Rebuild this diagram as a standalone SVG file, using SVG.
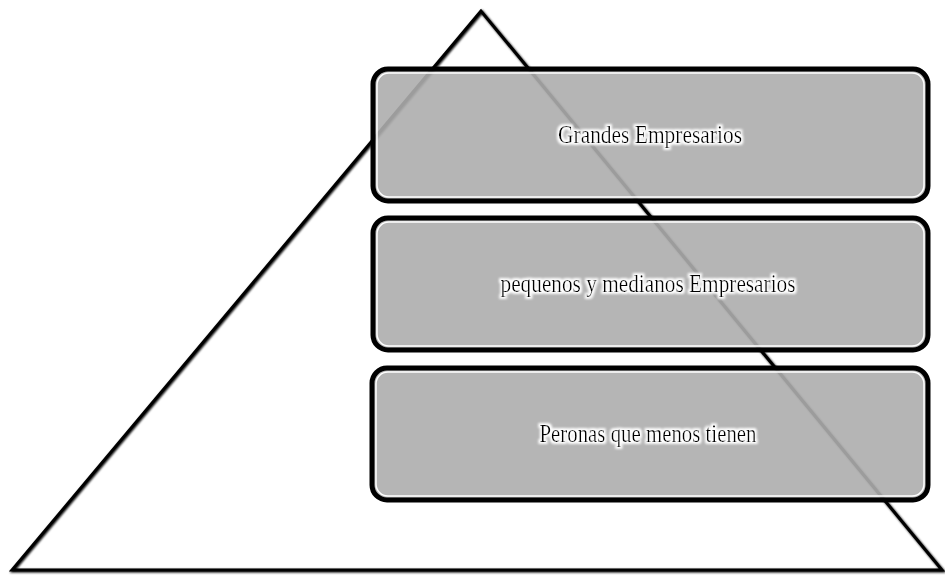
<svg xmlns="http://www.w3.org/2000/svg" width="945" height="575" viewBox="0 0 945 575">
<defs>
<filter id="sh" x="-5%" y="-5%" width="110%" height="110%">
<feGaussianBlur in="SourceAlpha" stdDeviation="1.2" result="b"/>
<feOffset dx="1" dy="1" result="o"/>
<feMerge><feMergeNode in="o"/><feMergeNode in="SourceGraphic"/></feMerge>
</filter>
<filter id="glow" x="-10%" y="-30%" width="120%" height="160%">
<feMorphology in="SourceAlpha" operator="dilate" radius="1.5" result="d"/>
<feGaussianBlur in="d" stdDeviation="1" result="g"/>
<feFlood flood-color="#ffffff"/>
<feComposite in2="g" operator="in" result="w"/>
<feMerge><feMergeNode in="w"/><feMergeNode in="SourceGraphic"/></feMerge>
</filter>
</defs>
<style>
.box{fill:#adadad;fill-opacity:0.9;stroke:#000;stroke-width:5}
.inner{fill:none;stroke:#fff;stroke-width:1.5}
.lbl{font-family:"Liberation Serif","Times New Roman",serif;font-size:25px;fill:#000;text-anchor:middle}
</style>
<rect width="945" height="575" fill="#fff"/>
<g id="pyramid" filter="url(#sh)">
<polygon points="481,11 12,570 942,570" fill="none" stroke="#000" stroke-width="3" stroke-linejoin="miter"/>
</g>
<g id="n1">
<rect class="box" x="373" y="69" width="555" height="132" rx="15"/>
<rect class="inner" x="377" y="73" width="547" height="124" rx="12"/>
<text class="lbl" x="650" y="143" textLength="184" lengthAdjust="spacingAndGlyphs" filter="url(#glow)">Grandes Empresarios</text>
</g>
<g id="n2">
<rect class="box" x="373" y="218" width="555" height="132" rx="15"/>
<rect class="inner" x="377" y="222" width="547" height="124" rx="12"/>
<text class="lbl" x="648" y="292" textLength="295" lengthAdjust="spacingAndGlyphs" filter="url(#glow)">pequenos y medianos Empresarios</text>
</g>
<g id="n3">
<rect class="box" x="372" y="368" width="556" height="132" rx="15"/>
<rect class="inner" x="376" y="372" width="548" height="124" rx="12"/>
<text class="lbl" x="648" y="442" textLength="217" lengthAdjust="spacingAndGlyphs" filter="url(#glow)">Peronas que menos tienen</text>
</g>
<g id="connectors"/>
</svg>
